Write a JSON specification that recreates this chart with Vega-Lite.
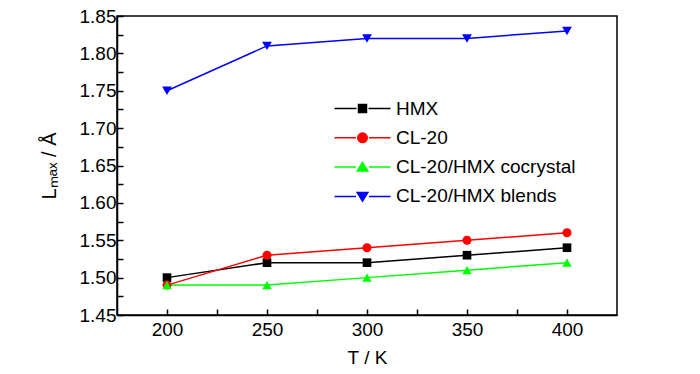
{
  "$schema": "https://vega.github.io/schema/vega-lite/v6.json",
  "width": 500,
  "height": 299,
  "autosize": "none",
  "padding": {"left": 117, "top": 16, "right": 83, "bottom": 59},
  "background": "white",
  "config": {
    "font": "Liberation Sans",
    "view": {"stroke": "black", "strokeWidth": 1.5}
  },
  "data": {
    "values": [
      {"series": "HMX", "T": 200, "L": 1.50},
      {"series": "HMX", "T": 250, "L": 1.52},
      {"series": "HMX", "T": 300, "L": 1.52},
      {"series": "HMX", "T": 350, "L": 1.53},
      {"series": "HMX", "T": 400, "L": 1.54},
      {"series": "CL-20", "T": 200, "L": 1.49},
      {"series": "CL-20", "T": 250, "L": 1.53},
      {"series": "CL-20", "T": 300, "L": 1.54},
      {"series": "CL-20", "T": 350, "L": 1.55},
      {"series": "CL-20", "T": 400, "L": 1.56},
      {"series": "CL-20/HMX cocrystal", "T": 200, "L": 1.49},
      {"series": "CL-20/HMX cocrystal", "T": 250, "L": 1.49},
      {"series": "CL-20/HMX cocrystal", "T": 300, "L": 1.50},
      {"series": "CL-20/HMX cocrystal", "T": 350, "L": 1.51},
      {"series": "CL-20/HMX cocrystal", "T": 400, "L": 1.52},
      {"series": "CL-20/HMX blends", "T": 200, "L": 1.75},
      {"series": "CL-20/HMX blends", "T": 250, "L": 1.81},
      {"series": "CL-20/HMX blends", "T": 300, "L": 1.82},
      {"series": "CL-20/HMX blends", "T": 350, "L": 1.82},
      {"series": "CL-20/HMX blends", "T": 400, "L": 1.83}
    ]
  },
  "encoding": {
    "x": {
      "field": "T",
      "type": "quantitative",
      "scale": {"domain": [175, 425], "nice": false, "zero": false},
      "axis": {
        "values": [200, 225, 250, 275, 300, 325, 350, 375, 400],
        "labelExpr": "datum.value % 50 === 0 ? datum.label : ''",
        "title": "T / K",
        "titleFont": "Liberation Sans",
        "titleFontSize": 19,
        "titleFontWeight": "normal",
        "titleColor": "black",
        "titlePadding": 9,
        "labelFont": "Liberation Sans",
        "labelFontSize": 19,
        "labelColor": "black",
        "labelPadding": 11,
        "labelFlush": false,
        "labelOverlap": false,
        "tickColor": "black",
        "tickWidth": 1.5,
        "tickSize": -6,
        "domainColor": "black",
        "domainWidth": 1.5,
        "grid": false,
        "encode": {"ticks": {"y2": {"value": {"expr": "datum.value % 50 === 0 ? -6 : -3"}}}}
      }
    },
    "y": {
      "field": "L",
      "type": "quantitative",
      "scale": {"domain": [1.45, 1.85], "nice": false, "zero": false},
      "axis": {
        "values": [1.45, 1.475, 1.5, 1.525, 1.55, 1.575, 1.6, 1.625, 1.65, 1.675, 1.7, 1.725, 1.75, 1.775, 1.8, 1.825, 1.85],
        "labelExpr": "abs(datum.value*20 - round(datum.value*20)) < 0.01 ? format(datum.value, '.2f') : ''",
        "title": "Lₘₐₓ / Å",
        "titleFont": "Liberation Sans",
        "titleFontSize": 20,
        "titleFontWeight": "normal",
        "titleColor": "black",
        "titlePadding": 20,
        "labelFont": "Liberation Sans",
        "labelFontSize": 19,
        "labelColor": "black",
        "labelPadding": 7,
        "labelFlush": false,
        "labelOverlap": false,
        "tickColor": "black",
        "tickWidth": 1.5,
        "tickSize": -6,
        "domainColor": "black",
        "domainWidth": 1.5,
        "grid": false,
        "encode": {"ticks": {"x2": {"value": {"expr": "abs(datum.value*20 - round(datum.value*20)) < 0.01 ? 6 : 3"}}}}
      }
    }
  },
  "resolve": {"scale": {"shape": "independent", "fill": "independent", "stroke": "independent"}},
  "layer": [
    {
      "mark": {"type": "line", "strokeWidth": 1.5},
      "encoding": {
        "color": {
          "field": "series",
          "type": "nominal",
          "scale": {
            "domain": ["HMX", "CL-20", "CL-20/HMX cocrystal", "CL-20/HMX blends"],
            "range": ["#000000", "#ff0000", "#00ff00", "#0000ff"]
          },
          "legend": null
        }
      }
    },
    {
      "mark": {"type": "point", "filled": true, "opacity": 1},
      "encoding": {
        "color": {
          "field": "series",
          "type": "nominal",
          "scale": {
            "domain": ["HMX", "CL-20", "CL-20/HMX cocrystal", "CL-20/HMX blends"],
            "range": ["#000000", "#ff0000", "#00ff00", "#0000ff"]
          },
          "legend": null
        },
        "shape": {
          "field": "series",
          "type": "nominal",
          "scale": {
            "domain": ["HMX", "CL-20", "CL-20/HMX cocrystal", "CL-20/HMX blends"],
            "range": ["square", "circle", "triangle-up", "triangle-down"]
          },
          "legend": null
        },
        "size": {
          "field": "series",
          "type": "nominal",
          "scale": {
            "domain": ["HMX", "CL-20", "CL-20/HMX cocrystal", "CL-20/HMX blends"],
            "range": [75, 95, 120, 120]
          },
          "legend": null
        }
      }
    },
    {
      "mark": {"type": "point", "filled": true, "opacity": 0, "size": 100, "strokeWidth": 1.5},
      "encoding": {
        "fill": {
          "field": "series",
          "type": "nominal",
          "scale": {
            "domain": ["HMX", "CL-20", "CL-20/HMX cocrystal", "CL-20/HMX blends"],
            "range": ["#000000", "#ff0000", "#00ff00", "#0000ff"]
          },
          "legend": {
            "orient": "none", "legendX": 236, "legendY": 83, "title": null, "padding": 0,
            "labelFont": "Liberation Sans", "labelFontSize": 19, "labelColor": "black",
            "labelOffset": 24, "labelLimit": 400, "symbolSize": 100, "rowPadding": 9.3,
            "symbolStrokeWidth": 1.5, "symbolOpacity": 1
          }
        },
        "stroke": {
          "field": "series",
          "type": "nominal",
          "scale": {
            "domain": ["HMX", "CL-20", "CL-20/HMX cocrystal", "CL-20/HMX blends"],
            "range": ["#000000", "#ff0000", "#00ff00", "#0000ff"]
          },
          "legend": {
            "orient": "none", "legendX": 236, "legendY": 83, "title": null, "padding": 0,
            "labelFont": "Liberation Sans", "labelFontSize": 19, "labelColor": "black",
            "labelOffset": 24, "labelLimit": 400, "symbolSize": 100, "rowPadding": 9.3,
            "symbolStrokeWidth": 1.5, "symbolOpacity": 1
          }
        },
        "shape": {
          "field": "series",
          "type": "nominal",
          "scale": {
            "domain": ["HMX", "CL-20", "CL-20/HMX cocrystal", "CL-20/HMX blends"],
            "range": [
              "M-5.6,0H-1.2M1.2,0H5.6M-0.8,-0.8H0.8V0.8H-0.8Z",
              "M-5.6,0H-1.3M1.3,0H5.6M-0.95,0A0.95,0.95,0,1,0,0.95,0A0.95,0.95,0,1,0,-0.95,0Z",
              "M-5.6,0H-1.3M1.3,0H5.6M0,-0.95L1.07,0.8L-1.07,0.8Z",
              "M-5.6,0H-1.3M1.3,0H5.6M0,0.95L1.07,-0.8L-1.07,-0.8Z"
            ]
          },
          "legend": {
            "orient": "none", "legendX": 236, "legendY": 83, "title": null, "padding": 0,
            "labelFont": "Liberation Sans", "labelFontSize": 19, "labelColor": "black",
            "labelOffset": 24, "labelLimit": 400, "symbolSize": 100, "rowPadding": 9.3,
            "symbolStrokeWidth": 1.5, "symbolOpacity": 1
          }
        }
      }
    }
  ]
}
